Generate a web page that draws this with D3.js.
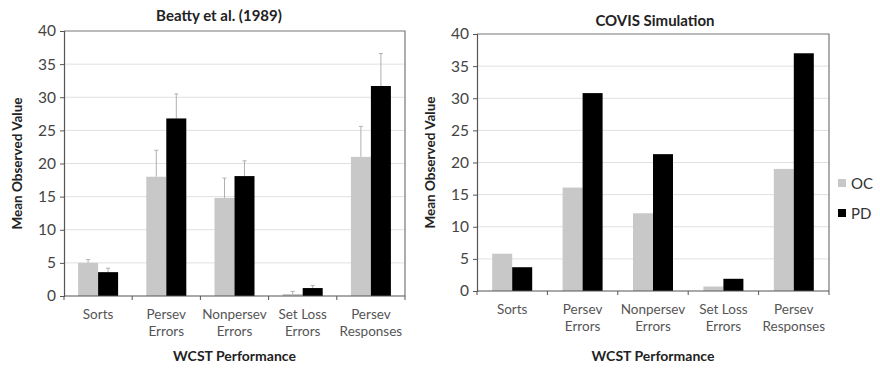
<!DOCTYPE html>
<html>
<head>
<meta charset="utf-8">
<script src="https://cdn.jsdelivr.net/npm/d3@7"></script>
<style>
  body { margin: 0; background: #fff; }
  svg { display: block; font-family: Lato, "Open Sans", sans-serif; }
</style>
</head>
<body>
<svg id="chart" width="880" height="372"></svg>
<script>
// categories (two-line labels)
var categories = ["Sorts", "Persev Errors", "Nonpersev Errors", "Set Loss Errors", "Persev Responses"];
var categoryLines = [["Sorts"], ["Persev", "Errors"], ["Nonpersev", "Errors"], ["Set Loss", "Errors"], ["Persev", "Responses"]];
var groups = ["OC", "PD"];
var yTicks = [0, 5, 10, 15, 20, 25, 30, 35, 40];

// Beatty et al. (1989) observed means and upper error bars
var beattyOC = [5.0, 18.0, 14.8, 0.3, 21.0];
var beattyPD = [3.6, 26.8, 18.1, 1.2, 31.7];
var beattyOCErr = [5.5, 22.0, 17.8, 0.7, 25.6];
var beattyPDErr = [4.2, 30.5, 20.4, 1.6, 36.6];

// COVIS simulation means
var covisOC = [5.8, 16.1, 12.1, 0.7, 19.0];
var covisPD = [3.7, 30.8, 21.3, 1.9, 37.0];

var colors = {OC: "#c8c8c8", PD: "#000"};

var svg = d3.select("#chart");

function drawPanel(opt) {
  var g = svg.append("g");
  var x = d3.scaleBand().domain(categories).range([opt.left, opt.right]);
  var y = d3.scaleLinear().domain([0, 40]).range([opt.bottom, opt.top]);
  var bw = 20;

  // gridlines
  g.selectAll(".grid").data(yTicks.filter(d => d > 0 && d < 40)).enter().append("line")
    .attr("x1", opt.left).attr("x2", opt.right)
    .attr("y1", d => y(d)).attr("y2", d => y(d))
    .attr("stroke", "#e0e0e0").attr("stroke-width", 1);

  // frame top/right
  g.append("path")
    .attr("d", "M" + opt.left + "," + y(40) + "H" + opt.right + "V" + y(0))
    .attr("fill", "none").attr("stroke", "#777").attr("stroke-width", 1.2);

  var data = [];
  categories.forEach(function(c, i) {
    data.push({c: c, grp: "OC", v: opt.oc[i], e: opt.ocErr ? opt.ocErr[i] : null});
    data.push({c: c, grp: "PD", v: opt.pd[i], e: opt.pdErr ? opt.pdErr[i] : null});
  });
  var bx = function(d) { return x(d.c) + x.bandwidth() / 2 + (d.grp === "OC" ? -bw : 0); };

  // error bars
  var eb = data.filter(d => d.e != null);
  g.selectAll(".err").data(eb).enter().append("line")
    .attr("x1", d => bx(d) + bw / 2).attr("x2", d => bx(d) + bw / 2)
    .attr("y1", d => y(d.v)).attr("y2", d => y(d.e))
    .attr("stroke", "#b0b0b0").attr("stroke-width", 1);
  g.selectAll(".cap").data(eb).enter().append("line")
    .attr("x1", d => bx(d) + bw / 2 - 2).attr("x2", d => bx(d) + bw / 2 + 2)
    .attr("y1", d => y(d.e)).attr("y2", d => y(d.e))
    .attr("stroke", "#b0b0b0").attr("stroke-width", 1);

  g.selectAll(".bar").data(data).enter().append("rect")
    .attr("x", bx).attr("width", bw)
    .attr("y", d => y(d.v)).attr("height", d => y(0) - y(d.v))
    .attr("fill", d => colors[d.grp]);

  // y axis
  var ya = g.append("g").attr("transform", "translate(" + opt.left + ",0)")
    .call(d3.axisLeft(y).tickValues(yTicks).tickSize(4).tickPadding(4));
  ya.select(".domain").attr("stroke", "#555").attr("stroke-width", 1.2);
  ya.selectAll(".tick line").attr("stroke", "#555");
  ya.selectAll("text").attr("font-size", 15.5).attr("fill", "#444").attr("font-family", "Lato, sans-serif");

  // x axis
  var xa = g.append("g").attr("transform", "translate(0," + y(0) + ")");
  xa.append("line").attr("x1", opt.left).attr("x2", opt.right)
    .attr("stroke", "#555").attr("stroke-width", 1.2);
  xa.selectAll(".xt").data(categories.concat(["end"])).enter().append("line")
    .attr("x1", (d, i) => i < categories.length ? x(d) : opt.right)
    .attr("x2", (d, i) => i < categories.length ? x(d) : opt.right)
    .attr("y1", 0).attr("y2", 4).attr("stroke", "#555");
  var lbl = xa.selectAll(".xl").data(categories).enter().append("text")
    .attr("x", d => x(d) + x.bandwidth() / 2)
    .attr("y", 23)
    .attr("text-anchor", "middle").attr("font-size", 13.5).attr("fill", "#555");
  lbl.each(function(d, i) {
    var t = d3.select(this);
    categoryLines[i].forEach(function(s, k) {
      t.append("tspan").attr("x", x(d) + x.bandwidth() / 2).attr("dy", k === 0 ? 0 : 17).text(s);
    });
  });

  // titles
  g.append("text").attr("x", opt.titleX).attr("y", opt.titleY)
    .attr("text-anchor", "middle").attr("font-size", 15).attr("font-weight", "bold")
    .attr("fill", "#222").text(opt.title);
  g.append("text").attr("x", (opt.left + opt.right) / 2).attr("y", 361)
    .attr("text-anchor", "middle").attr("font-size", 14).attr("font-weight", "bold")
    .attr("fill", "#222").text("WCST Performance");
  g.append("text")
    .attr("transform", "translate(" + opt.ylabX + "," + ((opt.top + opt.bottom) / 2) + ") rotate(-90)")
    .attr("text-anchor", "middle").attr("font-size", 13.5).attr("font-weight", "bold")
    .attr("fill", "#222").text("Mean Observed Value");
}

drawPanel({left: 64, right: 405, top: 31, bottom: 296, oc: beattyOC, pd: beattyPD,
  ocErr: beattyOCErr, pdErr: beattyPDErr, title: "Beatty et al. (1989)", titleX: 219, titleY: 21, ylabX: 22});
drawPanel({left: 477, right: 829, top: 34, bottom: 291, oc: covisOC, pd: covisPD,
  title: "COVIS Simulation", titleX: 655, titleY: 26, ylabX: 435});

// legend
var leg = svg.append("g").attr("transform", "translate(838,179)");
leg.selectAll("rect").data(groups).enter().append("rect")
  .attr("x", 0).attr("y", (d, i) => i * 30).attr("width", 8).attr("height", 8)
  .attr("fill", d => colors[d]);
leg.selectAll("text").data(groups).enter().append("text")
  .attr("x", 13).attr("y", (d, i) => i * 30 + 10)
  .attr("font-size", 15).attr("fill", "#333").text(d => d);
</script>
</body>
</html>
